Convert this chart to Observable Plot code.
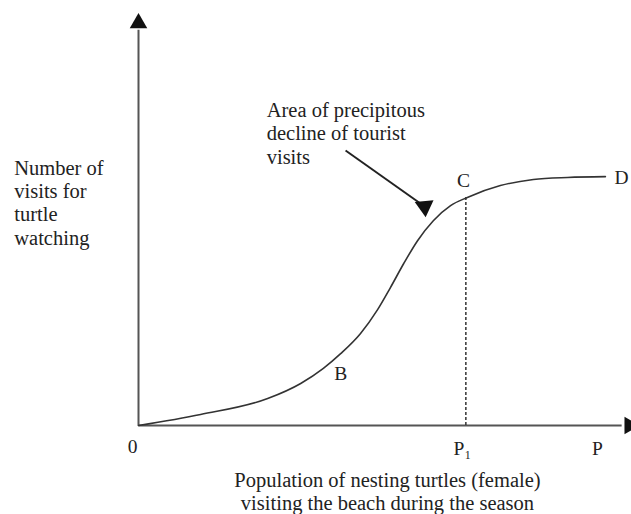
<!DOCTYPE html>
<html><head><meta charset="utf-8">
<script src="https://cdn.jsdelivr.net/npm/d3@7"></script>
<script src="https://cdn.jsdelivr.net/npm/@observablehq/plot@0.6"></script>
<style>
html,body{margin:0;padding:0;background:#fff;}
#chart svg{display:block;}
</style>
</head><body><div id="chart"></div>
<script>
// Curve: population (x) vs number of visits (y), arbitrary units 0-100
const curveX = [0, 12.6, 26.2, 32.9, 37.5, 41.0, 45.0, 48.5, 51.1, 53.8, 56.6, 59.8, 63.3, 66.7, 73.4, 80.1, 87.0, 94.7];
const curveY = [0, 2.7, 6.6, 10.3, 14.0, 17.6, 22.5, 28.4, 33.8, 39.7, 45.3, 50.2, 53.9, 55.9, 58.8, 60.3, 60.8, 61.0];

// Point labels on the curve
const pointLabels = ["B", "C", "D"];
const pointX = [41.0, 65.9, 98.0];
const pointY = [12.7, 60.0, 60.8];

// Critical population P1
const p1X = 66.4;
const p1Y = 55.9;

// Axis tick labels
const tickLabels = ["0", "P\u2081", "P"];
const tickX = [-1.2, 65.7, 93.1];
const tickY = [-5.2, -5.6, -5.8];

// Annotation
const noteText = "Area of precipitous\ndecline of tourist\nvisits";
const noteX = 26.0, noteY = 71.8;
const arrowFrom = [42.0, 67.4];
const arrowTo = [59.2, 52.7];

// Axis titles
const yTitle = "Number of\nvisits for\nturtle\nwatching";
const yTitleX = -25.2, yTitleY = 54.7;
const xTitle = "Population of nesting turtles (female)\nvisiting the beach during the season";
const xTitleX = 50.5, xTitleY = -16.2;

const curve = curveX.map((x, i) => ({x, y: curveY[i]}));
const pts = pointLabels.map((t, i) => ({t, x: pointX[i], y: pointY[i]}));
const ticks = tickLabels.map((t, i) => ({t, x: tickX[i], y: tickY[i]}));

const W = 631, H = 514;
const mL = 138, mR = 0, mT = 17, mB = 89;
const kx = (W - mL - mR) / 100, ky = (H - mT - mB) / 100;
// arrow head angle (screen space)
const ang = Math.atan2(-(arrowTo[1] - arrowFrom[1]) * ky, (arrowTo[0] - arrowFrom[0]) * kx) * 180 / Math.PI;
const back = 7; // px from tip to centroid of triangle
const rad = ang * Math.PI / 180;
const headX = arrowTo[0] - back * Math.cos(rad) / kx;
const headY = arrowTo[1] + back * Math.sin(rad) / ky;

const font = "Liberation Serif, Times New Roman, serif";
const ink = "#222";
const fs = 20.5;

const chart = Plot.plot({
  width: W, height: H,
  marginLeft: mL, marginRight: mR, marginTop: mT, marginBottom: mB,
  x: {domain: [0, 100], axis: null},
  y: {domain: [0, 100], axis: null},
  style: {fontFamily: font, background: "#fff"},
  marks: [
    // axes
    Plot.link([{x1: 0, y1: 0, x2: 0, y2: 97}], {x1: "x1", y1: "y1", x2: "x2", y2: "y2", stroke: "#555", strokeWidth: 2}),
    Plot.link([{x1: 0, y1: 0, x2: 98, y2: 0}], {x1: "x1", y1: "y1", x2: "x2", y2: "y2", stroke: "#555", strokeWidth: 2}),
    Plot.dot([{x: 0, y: 98.6}], {x: "x", y: "y", symbol: "triangle", r: 6.5, fill: "#111", stroke: "none"}),
    Plot.dot([{x: 99.6, y: 0}], {x: "x", y: "y", symbol: "triangle", r: 6.5, fill: "#111", stroke: "none", rotate: 90}),
    // dashed P1 line
    Plot.ruleX([p1X], {y1: 0, y2: p1Y, stroke: "#333", strokeWidth: 1.5, strokeDasharray: "3,2"}),
    // curve
    Plot.line(curve, {x: "x", y: "y", curve: "monotone-x", stroke: "#333", strokeWidth: 1.6}),
    // annotation arrow
    Plot.link([{x1: arrowFrom[0], y1: arrowFrom[1], x2: headX, y2: headY}], {x1: "x1", y1: "y1", x2: "x2", y2: "y2", stroke: "#222", strokeWidth: 2}),
    Plot.dot([{x: headX, y: headY}], {x: "x", y: "y", symbol: "triangle", r: 7, fill: "#111", stroke: "none", rotate: 90 - ang}),
    // labels
    Plot.text(pts, {x: "x", y: "y", text: "t", fontSize: 19.5, fill: ink}),
    Plot.text(ticks, {x: "x", y: "y", text: "t", fontSize: 19.5, fill: ink}),
    Plot.text([noteText], {x: noteX, y: noteY, text: d => d, textAnchor: "start", lineAnchor: "middle", lineHeight: 1.146, fontSize: fs, fill: ink}),
    Plot.text([yTitle], {x: yTitleX, y: yTitleY, text: d => d, textAnchor: "start", lineAnchor: "middle", lineHeight: 1.137, fontSize: fs, fill: ink}),
    Plot.text([xTitle], {x: xTitleX, y: xTitleY, text: d => d, textAnchor: "middle", lineAnchor: "middle", lineHeight: 1.12, fontSize: fs, fill: ink})
  ]
});
document.getElementById("chart").appendChild(chart);
</script>
</body></html>
